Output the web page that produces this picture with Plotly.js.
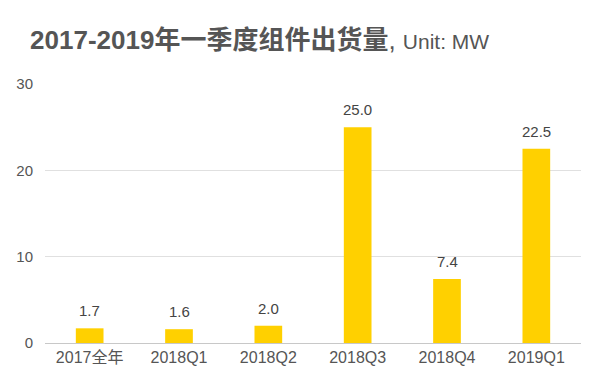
<!DOCTYPE html>
<html><head><meta charset="utf-8">
<script src="https://cdn.plot.ly/plotly-3.0.1.min.js"></script>
<style>body{margin:0;background:#fff}#c{width:601px;height:377px}</style>
</head><body><div id="c"></div>
<script>
const categories = ["2017全年","2018Q1","2018Q2","2018Q3","2018Q4","2019Q1"];
const values = [1.7,1.6,2.0,25.0,7.4,22.5];
const labels = ["1.7","1.6","2.0","25.0","7.4","22.5"];
const yTicks = [0,10,20,30];

const font = "Helvetica, Arial, 'Liberation Sans', 'Noto Sans CJK SC', sans-serif";
Plotly.newPlot('c', [{
  type:'bar', x:categories, y:values,
  marker:{color:'#FFD000'}, hoverinfo:'none'
}], {
  width:601, height:377,
  margin:{l:45,r:20,t:84,b:34},
  paper_bgcolor:'#fff', plot_bgcolor:'#fff',
  bargap:0.69,
  title:{text:"<b>2017-2019年一季度组件出货量</b>, <span style='font-size:21px'>Unit: MW</span>",
    x:0.05, xanchor:'left', y:0.895, yanchor:'middle',
    font:{size:26,color:'#555',family:font}},
  annotations: categories.map((c,i)=>({x:c, y:values[i], text:labels[i], showarrow:false,
    yanchor:'bottom', yshift:7, font:{size:15,color:'#444',family:font}})),
  xaxis:{tickfont:{size:16,color:'#555',family:font}, showline:false, ticks:'', ticklabelstandoff:3, fixedrange:true},
  yaxis:{range:[0,30], tickvals:yTicks, ticktext:yTicks.map(String),
    tickfont:{size:15,color:'#555',family:font}, gridcolor:'#e0e0e0', gridwidth:1,
    zeroline:true, zerolinecolor:'#c8c8c8', zerolinewidth:1, ticks:'', ticklen:0, ticklabelstandoff:11},
  showlegend:false
}, {staticPlot:true});
</script></body></html>
